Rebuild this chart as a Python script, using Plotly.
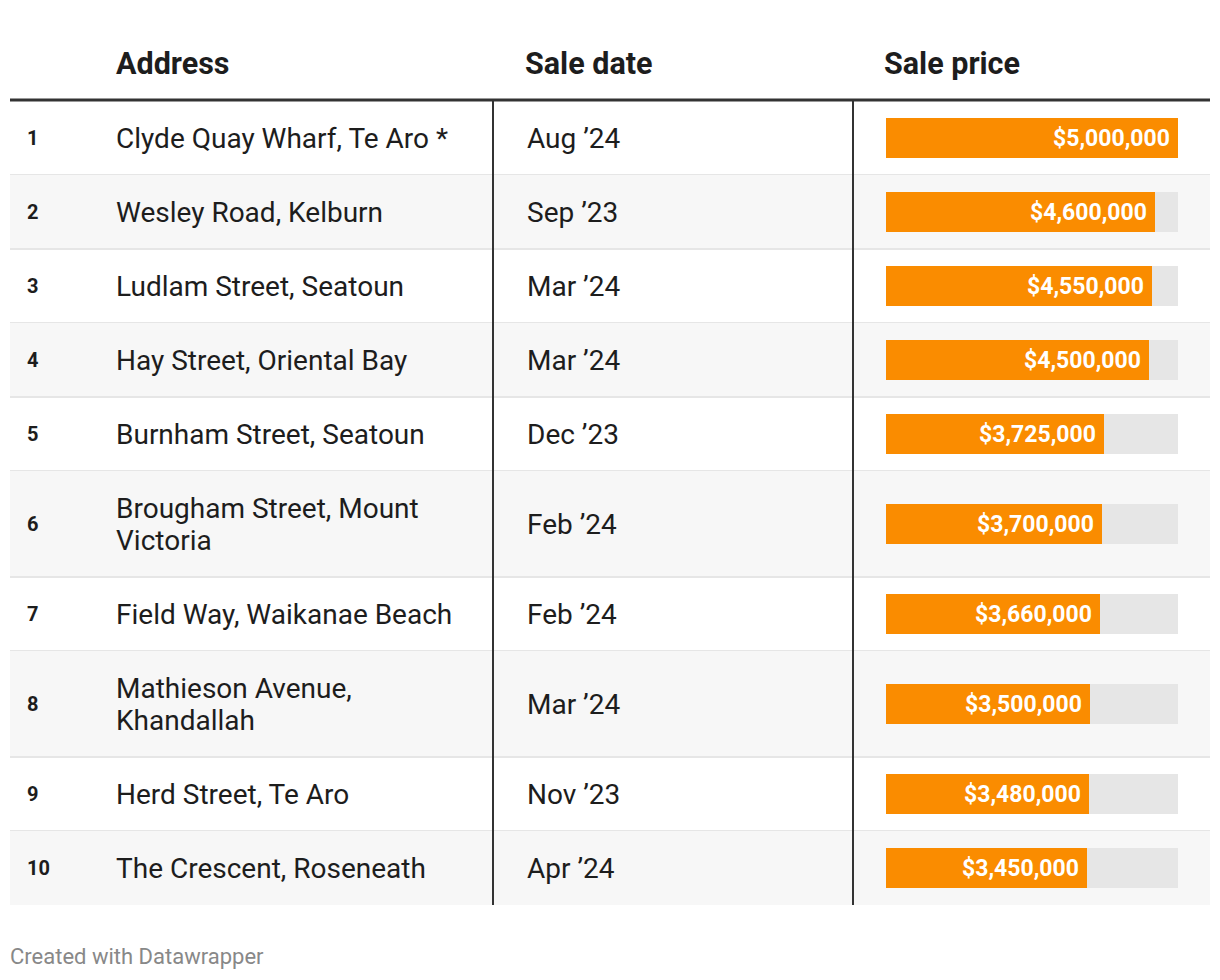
import plotly.graph_objects as go

ranks = ["1", "2", "3", "4", "5", "6", "7", "8", "9", "10"]
addresses = [
    "Clyde Quay Wharf, Te Aro *",
    "Wesley Road, Kelburn",
    "Ludlam Street, Seatoun",
    "Hay Street, Oriental Bay",
    "Burnham Street, Seatoun",
    "Brougham Street, Mount<br>Victoria",
    "Field Way, Waikanae Beach",
    "Mathieson Avenue,<br>Khandallah",
    "Herd Street, Te Aro",
    "The Crescent, Roseneath",
]
sale_dates = ["Aug ’24", "Sep ’23", "Mar ’24", "Mar ’24", "Dec ’23",
              "Feb ’24", "Feb ’24", "Mar ’24", "Nov ’23", "Apr ’24"]
sale_prices = [5000000, 4600000, 4550000, 4500000, 3725000,
               3700000, 3660000, 3500000, 3480000, 3450000]
headers = ["Address", "Sale date", "Sale price"]
footer = "Created with Datawrapper"

W, H = 1220, 980
OFF = 8  # compensate page body margin
TEXT = "#1d1d1d"
ORANGE = "#fa8c00"
TRACK = "#e6e6e6"
STRIPE = "#f7f7f7"
FONT = "Roboto"
PAD = -2  # annotation inner padding compensation

# layout of rows (pixel space)
top = 101
row_h = [106 if "<br>" in a else 74 for a in addresses]
row_top = []
y = top
for h in row_h:
    row_top.append(y)
    y += h
table_bottom = y
row_mid = [t + h / 2 for t, h in zip(row_top, row_h)]

fig = go.Figure()

shapes = []
for i, (t, h) in enumerate(zip(row_top, row_h)):
    if i % 2 == 1:
        shapes.append(dict(type="rect", xref="x", yref="y", x0=10, x1=1210, y0=t, y1=t + h,
                           fillcolor=STRIPE, line_width=0, layer="below"))
    if i < len(row_h) - 1:
        shapes.append(dict(type="line", xref="x", yref="y", x0=10, x1=1210, y0=t + h, y1=t + h,
                           line=dict(color="#e6e6e6", width=2), layer="below"))
# header rule
shapes.append(dict(type="line", xref="x", yref="y", x0=10, x1=1210, y0=100, y1=100,
                   line=dict(color="#333333", width=3)))
# vertical column rules
for xv in (493, 853):
    shapes.append(dict(type="line", xref="x", yref="y", x0=xv, x1=xv, y0=101, y1=table_bottom,
                       line=dict(color="#333333", width=2)))

# bar tracks and bars
maxv = max(sale_prices)
fig.add_trace(go.Bar(x=[maxv] * len(sale_prices), y=row_mid, orientation="h",
                     xaxis="x2", yaxis="y", width=40, marker=dict(color=TRACK, line_width=0),
                     hoverinfo="skip", showlegend=False))
fig.add_trace(go.Bar(x=sale_prices, y=row_mid, orientation="h",
                     xaxis="x2", yaxis="y", width=40, marker=dict(color=ORANGE, line_width=0),
                     hovertemplate="$%{x:,}<extra></extra>", showlegend=False))

annotations = []
# headers
for txt, xv in zip(headers, (116, 525, 884)):
    annotations.append(dict(x=xv, y=63, xref="x", yref="y", text=txt, showarrow=False,
                            xanchor="left", yanchor="middle", xshift=PAD,
                            font=dict(family=FONT, size=30.5, color=TEXT, weight=700)))
LINE = 32
for i in range(len(ranks)):
    ym = row_mid[i]
    annotations.append(dict(x=27, y=ym, xref="x", yref="y", text=ranks[i], showarrow=False,
                            xanchor="left", yanchor="middle", xshift=PAD,
                            font=dict(family=FONT, size=20, color=TEXT, weight=700)))
    lines = addresses[i].split("<br>")
    n = len(lines)
    for k, ln in enumerate(lines):
        yl = ym + (k - (n - 1) / 2) * LINE
        annotations.append(dict(x=116, y=yl, xref="x", yref="y", text=ln, showarrow=False,
                                xanchor="left", yanchor="middle", align="left", xshift=PAD,
                                font=dict(family=FONT, size=28, color=TEXT)))
    annotations.append(dict(x=527, y=ym, xref="x", yref="y", text=sale_dates[i], showarrow=False,
                            xanchor="left", yanchor="middle", xshift=PAD,
                            font=dict(family=FONT, size=28, color=TEXT)))
    annotations.append(dict(x=sale_prices[i], y=ym, xref="x2", yref="y",
                            text="${:,}".format(sale_prices[i]), showarrow=False,
                            xanchor="right", yanchor="middle", xshift=-6,
                            font=dict(family=FONT, size=23, color="white", weight=700)))
annotations.append(dict(x=10, y=956, xref="x", yref="y", text=footer, showarrow=False,
                        xanchor="left", yanchor="middle", xshift=PAD,
                        font=dict(family=FONT, size=22, color="#888888")))

fig.update_layout(
    width=W, height=H, margin=dict(l=0, r=0, t=0, b=0),
    paper_bgcolor="white", plot_bgcolor="rgba(0,0,0,0)",
    barmode="overlay", bargap=0,
    xaxis=dict(range=[OFF, W + OFF], visible=False, fixedrange=True),
    xaxis2=dict(range=[0, maxv], domain=[(886 - OFF) / W, (1178 - OFF) / W], anchor="y",
                visible=False, fixedrange=True),
    yaxis=dict(range=[H + OFF, OFF], visible=False, fixedrange=True),
    shapes=shapes, annotations=annotations,
)

fig.write_html("out.html")
